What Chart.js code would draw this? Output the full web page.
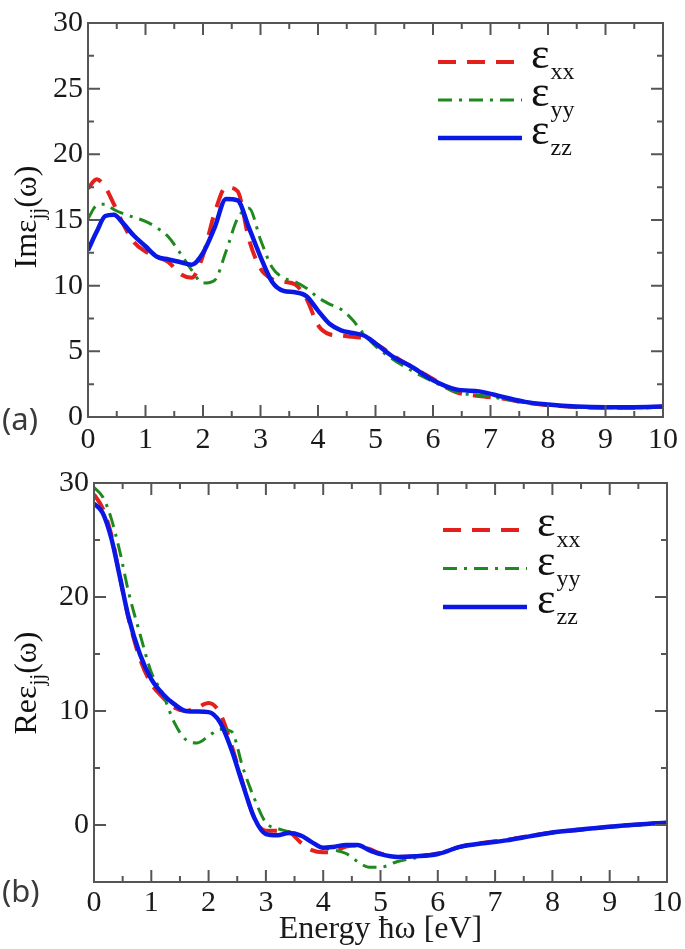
<!DOCTYPE html>
<html>
<head>
<meta charset="utf-8">
<script src="https://cdn.jsdelivr.net/npm/chart.js@4.4.1/dist/chart.umd.min.js"></script>
<style>
  html, body { margin: 0; padding: 0; background: #fff; }
  .panel { position: absolute; left: 0; }
</style>
</head>
<body>
<div class="panel" style="top:0"><canvas id="imChart" width="685" height="460"></canvas></div>
<div class="panel" style="top:460px"><canvas id="reChart" width="685" height="489"></canvas></div>
<script>
// energy grid (eV), shared by both panels
const energy = [0, 0.15, 0.3, 0.45, 0.6, 0.8, 1.0, 1.2, 1.4, 1.6, 1.8, 2.0, 2.2, 2.4, 2.6, 2.8, 3.0, 3.2, 3.4, 3.6, 3.8,
    4.0, 4.2, 4.4, 4.6, 4.8, 5.0, 5.3, 5.6, 6.0, 6.4, 6.8, 7.2, 7.6, 8.0, 8.5, 9.0, 9.5, 10];

// (a) imaginary part
const imXX = [17.4, 18.1, 17.5, 16.2, 14.8, 13.3, 12.6, 12.2, 11.8, 10.9, 10.6, 12.3, 15.5, 17.5, 17.2, 13.5, 11.3, 10.5, 10.3, 10.1, 9.0,
    7.0, 6.3, 6.2, 6.1, 6.0, 5.6, 4.7, 3.9, 2.9, 1.9, 1.6, 1.4, 1.1, 0.9, 0.75, 0.7, 0.7, 0.8];
const imYY = [15.1, 16.1, 16.2, 15.8, 15.5, 15.2, 14.9, 14.4, 13.7, 12.5, 11.2, 10.2, 10.4, 12.6, 15.1, 15.9, 13.5, 11.4, 10.6, 10.3, 9.8,
    9.1, 8.6, 8.2, 7.4, 6.3, 5.4, 4.4, 3.6, 2.7, 1.9, 1.65, 1.4, 1.1, 0.9, 0.75, 0.7, 0.7, 0.75];
const imZZ = [12.7, 14.1, 15.3, 15.4, 14.8, 13.8, 13.0, 12.2, 12.0, 11.8, 11.6, 12.5, 14.4, 16.6, 16.5, 14.4, 12.2, 10.3, 9.6, 9.5, 9.2,
    8.1, 7.1, 6.6, 6.4, 6.2, 5.6, 4.6, 3.9, 2.8, 2.1, 1.95, 1.55, 1.15, 0.95, 0.8, 0.75, 0.75, 0.8];

// (b) real part
const reXX = [29.0, 27.8, 25.5, 21.8, 18.2, 14.6, 12.4, 11.2, 10.3, 10.0, 10.3, 10.7, 9.8, 7.0, 3.6, 0.6, -0.5, -0.5, -0.6, -1.5, -2.2,
    -2.4, -2.3, -1.9, -1.8, -2.1, -2.5, -2.8, -2.75, -2.5, -1.9, -1.55, -1.3, -0.95, -0.65, -0.4, -0.15, 0.05, 0.2];
const reYY = [29.6, 28.8, 26.9, 24.0, 20.5, 16.8, 13.4, 11.5, 9.0, 7.5, 7.2, 7.8, 8.4, 8.2, 5.0, 2.3, 0.2, -0.3, -0.6, -1.0, -1.5,
    -2.0, -2.2, -2.5, -3.2, -3.7, -3.7, -3.2, -2.9, -2.5, -1.95, -1.6, -1.35, -1.0, -0.7, -0.45, -0.2, 0.0, 0.2];
const reZZ = [28.2, 27.4, 25.2, 21.8, 18.3, 15.0, 12.8, 11.5, 10.6, 10.0, 9.95, 9.9, 9.0, 6.6, 3.5, 0.6, -0.8, -0.9, -0.7, -0.9, -1.5,
    -2.0, -1.9, -1.75, -1.75, -2.2, -2.55, -2.8, -2.75, -2.55, -1.9, -1.6, -1.35, -1.0, -0.65, -0.4, -0.15, 0.05, 0.2];

const xTicks = [0, 1, 2, 3, 4, 5, 6, 7, 8, 9, 10];
const imTicks = [0, 5, 10, 15, 20, 25, 30];
const reTicks = [0, 10, 20, 30];
const seriesNames = ['xx', 'yy', 'zz'];

const SERIF = '"Liberation Serif", "DejaVu Serif", serif';
const styles = {
    xx: { color: '#e3201c', width: 4, dash: [18, 11], order: 3 },
    yy: { color: '#1e8a1e', width: 3, dash: [14, 7, 3, 7], order: 2 },
    zz: { color: '#0a18e6', width: 4.5, dash: [], order: 1 }
};

function makeSet(name, values) {
    const s = styles[name];
    return {
        label: name,
        data: energy.map((e, i) => ({ x: e, y: values[i] })),
        borderColor: s.color,
        borderWidth: s.width,
        borderDash: s.dash,
        pointRadius: 0,
        fill: false,
        cubicInterpolationMode: 'monotone',
        order: s.order
    };
}

// frame, inner ticks, legend with subscripts, rotated y title, panel tag
const decorPlugin = {
    id: 'decor',
    afterDraw(chart) {
        const o = chart.options.plugins.decor;
        const ctx = chart.ctx;
        const a = chart.chartArea;
        const xs = chart.scales.x, ys = chart.scales.y;
        ctx.save();
        ctx.strokeStyle = '#555';
        ctx.lineWidth = 2;
        ctx.strokeRect(a.left, a.top, a.right - a.left, a.bottom - a.top);
        ctx.beginPath();
        for (let v = xs.min; v <= xs.max + 1e-9; v += o.xMinor) {
            const px = xs.getPixelForValue(v);
            const len = Math.abs(v % o.xMajor) < 1e-9 ? 12 : 6;
            ctx.moveTo(px, a.bottom); ctx.lineTo(px, a.bottom - len);
            ctx.moveTo(px, a.top); ctx.lineTo(px, a.top + len);
        }
        for (let v = ys.min; v <= ys.max + 1e-9; v += o.yMinor) {
            const py = ys.getPixelForValue(v);
            const len = Math.abs(v % o.yMajor) < 1e-9 ? 12 : 6;
            ctx.moveTo(a.left, py); ctx.lineTo(a.left + len, py);
            ctx.moveTo(a.right, py); ctx.lineTo(a.right - len, py);
        }
        ctx.stroke();

        // legend
        const lg = o.legend;
        seriesNames.forEach((name, i) => {
            const s = styles[name];
            const y = lg.y + i * lg.gap;
            ctx.strokeStyle = s.color;
            ctx.lineWidth = s.width;
            ctx.setLineDash(s.dash);
            ctx.beginPath();
            ctx.moveTo(lg.x1, y); ctx.lineTo(lg.x2, y);
            ctx.stroke();
            ctx.setLineDash([]);
            ctx.fillStyle = '#111';
            ctx.textBaseline = 'alphabetic';
            ctx.textAlign = 'left';
            ctx.font = '44px ' + SERIF;
            ctx.fillText('\u03b5', lg.tx, y + 6);
            const w = ctx.measureText('\u03b5').width;
            ctx.font = '24px ' + SERIF;
            ctx.fillText(name, lg.tx + w + 1, y + 17);
        });

        // y title, rotated
        ctx.save();
        ctx.translate(o.title.x, o.title.y);
        ctx.rotate(-Math.PI / 2);
        ctx.fillStyle = '#111';
        ctx.textBaseline = 'alphabetic';
        const parts = [[o.title.pre, 32, 0], ['jj', 21, 8], ['(\u03c9)', 32, 0]];
        let total = 0;
        parts.forEach(p => { ctx.font = p[1] + 'px ' + SERIF; total += ctx.measureText(p[0]).width; });
        let tx = -total / 2;
        parts.forEach(p => {
            ctx.font = p[1] + 'px ' + SERIF;
            ctx.fillText(p[0], tx, 10 + p[2]);
            tx += ctx.measureText(p[0]).width;
        });
        ctx.restore();

        // panel tag
        ctx.fillStyle = '#3a3a3a';
        ctx.font = '31px "Noto Sans", "DejaVu Sans", sans-serif';
        ctx.textAlign = 'left';
        ctx.textBaseline = 'middle';
        ctx.fillText(o.tag, 2, o.tagY);
        ctx.restore();
    }
};

function makeChart(id, sets, yMin, yMax, yTicks, cfg) {
    return new Chart(document.getElementById(id), {
        type: 'line',
        data: { datasets: sets },
        plugins: [decorPlugin],
        options: {
            responsive: false,
            animation: false,
            layout: { padding: { top: cfg.padTop, right: cfg.padRight, left: 0, bottom: 0 } },
            plugins: { legend: { display: false }, tooltip: { enabled: false }, decor: cfg.decor },
            scales: {
                x: {
                    type: 'linear', min: 0, max: 10,
                    grid: { display: false, drawTicks: false },
                    border: { display: false },
                    afterBuildTicks: s => { s.ticks = xTicks.map(v => ({ value: v })); },
                    afterFit: s => { s.height = cfg.xHeight; },
                    ticks: { color: '#1a1a1a', font: { family: SERIF, size: 30 }, padding: cfg.xPad, maxRotation: 0 },
                    title: cfg.xTitle
                },
                y: {
                    min: yMin, max: yMax,
                    grid: { display: false, drawTicks: false },
                    border: { display: false },
                    afterBuildTicks: s => { s.ticks = yTicks.map(v => ({ value: v })); },
                    afterFit: s => { s.width = cfg.yWidth; },
                    ticks: { color: '#1a1a1a', font: { family: SERIF, size: 30 }, padding: 5 }
                }
            }
        }
    });
}

makeChart('imChart', [makeSet('xx', imXX), makeSet('yy', imYY), makeSet('zz', imZZ)], 0, 30, imTicks, {
    padTop: 12, padRight: 22, xHeight: 43, yWidth: 88, xPad: 5,
    xTitle: { display: false },
    decor: {
        xMinor: 0.5, xMajor: 1, yMinor: 2.5, yMajor: 5,
        legend: { x1: 438, x2: 522, tx: 531, y: 62, gap: 38 },
        title: { x: 26, y: 217, pre: 'Im\u03b5' },
        tag: '(a)', tagY: 421
    }
});

makeChart('reChart', [makeSet('xx', reXX), makeSet('yy', reYY), makeSet('zz', reZZ)], -5, 30, reTicks, {
    padTop: 22, padRight: 17, xHeight: 67, yWidth: 94, xPad: 3,
    xTitle: { display: true, text: 'Energy \u0127\u03c9 [eV]', color: '#1a1a1a', font: { family: SERIF, size: 32 }, padding: { top: 0, bottom: 0 } },
    decor: {
        xMinor: 0.5, xMajor: 1, yMinor: 5, yMajor: 10,
        legend: { x1: 443, x2: 527, tx: 537, y: 70, gap: 38.5 },
        title: { x: 26, y: 223, pre: 'Re\u03b5' },
        tag: '(b)', tagY: 433
    }
});
</script>
</body>
</html>
